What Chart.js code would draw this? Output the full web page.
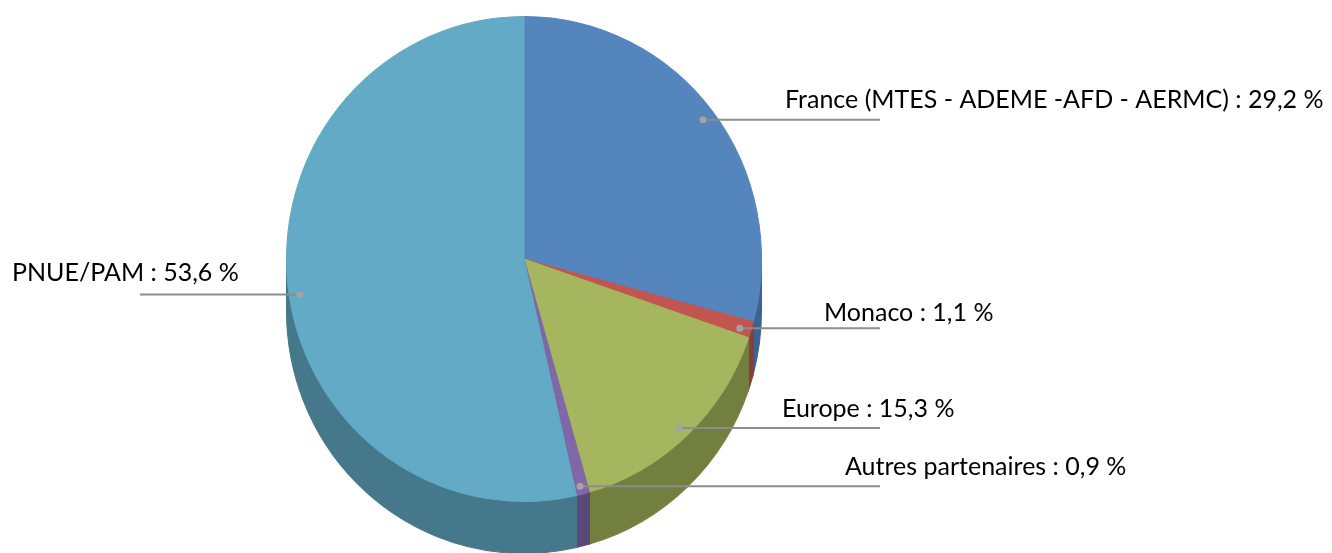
<!DOCTYPE html>
<html>
<head>
<meta charset="utf-8">
<script src="https://cdn.jsdelivr.net/npm/chart.js@4.4.0/dist/chart.umd.min.js"></script>
<style>
  html, body { margin: 0; padding: 0; background: #fff; }
  #wrap { width: 1332px; height: 553px; position: relative; }
</style>
</head>
<body>
<div id="wrap"><canvas id="pieChart"></canvas></div>
<script>
'use strict';
var labels = ['France (MTES - ADEME -AFD - AERMC)', 'Monaco', 'Europe', 'Autres partenaires', 'PNUE/PAM'];
var values = [29.2, 1.1, 15.3, 0.9, 53.6];

var topColors = ['#5585bd', '#c0564f', '#a5b65e', '#8067a8', '#62aac5'];
var sideColors = ['#3e6291', '#8b3e3a', '#737f3f', '#594878', '#44788a'];

// leader line end, text left, text baseline offset from the line, small dot nudge
var labelLayout = [
  { lineEnd: 880, textX: 785, dy: -12, nudge: 1 },
  { lineEnd: 880, textX: 824, dy: -7, nudge: 2 },
  { lineEnd: 880, textX: 782, dy: -11, nudge: 2 },
  { lineEnd: 880, textX: 845, dy: -11, nudge: 4 },
  { lineEnd: 140, textX: 12, dy: -14, nudge: 10 }
];
var DEPTH = 52;
var TILT = 243 / 238; // top face is a little taller than wide

var sidePlugin = {
  id: 'pieSide',
  beforeDatasetsDraw: function(chart) {
    var ctx = chart.ctx;
    var arcs = chart.getDatasetMeta(0).data;
    var c = arcs[0].getProps(['x', 'y'], true);
    ctx.save();
    ctx.translate(c.x, c.y);
    ctx.scale(1, TILT);
    ctx.translate(-c.x, -c.y);
    // extruded side under the top face
    arcs.forEach(function(arc, i) {
      var p = arc.getProps(['x', 'y', 'startAngle', 'endAngle', 'outerRadius'], true);
      var s = Math.max(p.startAngle, 0);
      var e = Math.min(p.endAngle, Math.PI);
      if (e <= s) return;
      ctx.beginPath();
      ctx.arc(p.x, p.y, p.outerRadius, s, e);
      ctx.arc(p.x, p.y + DEPTH / TILT, p.outerRadius, e, s, true);
      ctx.closePath();
      ctx.fillStyle = sideColors[i];
      ctx.strokeStyle = sideColors[i];
      ctx.lineWidth = 1;
      ctx.fill();
      ctx.stroke();
    });
    // transform stays on while chart.js paints the top face
  },
  afterDatasetsDraw: function(chart) {
    var ctx = chart.ctx;
    ctx.restore();
    var arcs = chart.getDatasetMeta(0).data;
    ctx.save();
    arcs.forEach(function(arc, i) {
      var p = arc.getProps(['x', 'y', 'startAngle', 'endAngle', 'outerRadius'], true);
      var mid = (p.startAngle + p.endAngle) / 2;
      var r = p.outerRadius * 0.95;
      var lay = labelLayout[i];
      var dx = p.x + Math.cos(mid) * r;
      var dy = p.y + Math.sin(mid) * r * TILT + lay.nudge;
      ctx.strokeStyle = '#8c8c8c';
      ctx.lineWidth = 2;
      ctx.beginPath();
      ctx.moveTo(dx, dy);
      ctx.lineTo(lay.lineEnd, dy);
      ctx.stroke();
      ctx.fillStyle = '#a3a3a3';
      ctx.beginPath();
      ctx.arc(dx, dy, 3.5, 0, Math.PI * 2);
      ctx.fill();
      ctx.fillStyle = '#000';
      ctx.font = '25px Lato, "Open Sans", sans-serif';
      ctx.textBaseline = 'alphabetic';
      ctx.textAlign = 'left';
      var txt = labels[i] + ' : ' + values[i].toFixed(1).replace('.', ',') + ' %';
      ctx.fillText(txt, lay.textX, dy + lay.dy);
    });
    ctx.restore();
  }
};

new Chart(document.getElementById('pieChart'), {
  type: 'pie',
  data: {
    labels: labels,
    datasets: [{
      data: values,
      backgroundColor: topColors,
      borderColor: topColors,
      borderWidth: 1,
      hoverOffset: 0,
      clip: false
    }]
  },
  options: {
    responsive: true, maintainAspectRatio: false,
    animation: false,
    layout: { padding: { left: 286, right: 570, top: 21, bottom: 56 } },
    plugins: { legend: { display: false }, tooltip: { enabled: false } }
  },
  plugins: [sidePlugin]
});
</script>
</body>
</html>
